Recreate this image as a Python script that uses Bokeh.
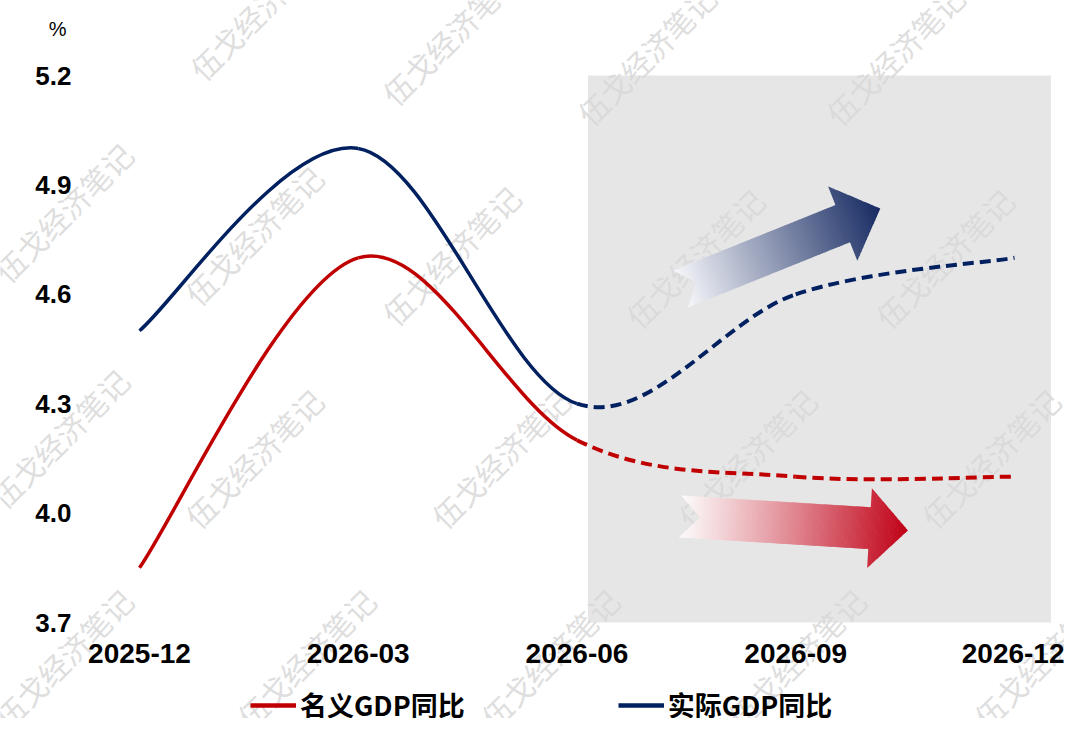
import math
from bokeh.plotting import figure
from bokeh.models import (Range1d, FixedTicker, BoxAnnotation, Label, Legend,
                          LegendItem, NumeralTickFormatter)
from bokeh.embed import file_html
from bokeh.resources import INLINE

# ---------------- data ----------------
quarters = ["2025-12", "2026-03", "2026-06", "2026-09", "2026-12"]
month_pos = [0, 3, 6, 9, 12]
nominal = [3.85, 4.70, 4.20, 4.10, 4.10]     # 名义GDP同比
real = [4.50, 5.00, 4.30, 4.60, 4.70]        # 实际GDP同比
y_ticks = [3.7, 4.0, 4.3, 4.6, 4.9, 5.2]
y_min, y_max = 3.7, 5.2
series_names = ["名义GDP同比", "实际GDP同比"]
forecast_start_index = 2   # dashed from 2026-06 on
shade_months = (6.15, 12.5)
watermark_text = "伍戈经济笔记"

RED = "#c00000"
NAVY = "#002060"

# ---------------- layout mapping ----------------
W, H = 1064, 718
REF_PX0, REF_PXM = 139.0, 73.92      # reference px of month 0, px per month
PY0, PYU = 622.0, 547.0 / 1.5        # canvas y of 3.7, px per unit
CANVAS_PXM = (1014.0 - 139.0) / 12   # slightly compressed to fit 1064px


def dx(px):
    return (px - REF_PX0) / REF_PXM


def dy(py):
    return y_min + (PY0 - py) / PYU


p = figure(width=W, height=H, output_backend="svg", toolbar_location=None,
           x_range=Range1d(-REF_PX0 / CANVAS_PXM, (W - REF_PX0) / CANVAS_PXM),
           y_range=Range1d(dy(H), dy(0)),
           min_border=0, min_border_left=0, min_border_right=0,
           min_border_top=0, min_border_bottom=0)
p.title.visible = False
p.outline_line_color = None
p.grid.visible = False
p.background_fill_color = "white"
p.border_fill_color = "white"

for ax in (p.xaxis[0], p.yaxis[0]):
    ax.axis_line_color = None
    ax.major_tick_line_color = None
    ax.minor_tick_line_color = None
    ax.major_tick_out = 0
    ax.major_tick_in = 0
    ax.major_label_text_font = "Liberation Sans"
    ax.major_label_text_font_style = "bold"
    ax.major_label_text_color = "black"

p.xaxis.fixed_location = y_min
p.xaxis.ticker = FixedTicker(ticks=month_pos)
p.xaxis.major_label_overrides = {m: q for m, q in zip(month_pos, quarters)}
p.xaxis.major_label_text_font_size = "28px"
p.xaxis.major_label_standoff = 21

p.yaxis.fixed_location = (90 - REF_PX0) / CANVAS_PXM
p.yaxis.ticker = FixedTicker(ticks=y_ticks)
p.yaxis.formatter = NumeralTickFormatter(format="0.0")
p.yaxis.major_label_text_font_size = "26px"
p.yaxis.major_label_standoff = 19

# shaded forecast area
p.add_layout(BoxAnnotation(left=shade_months[0], right=shade_months[1],
                           bottom=y_min, top=y_max,
                           fill_color="#e7e6e6", fill_alpha=1.0,
                           line_color=None, level="underlay"))

# watermark
wm_px = [(205, 85), (400, 110), (598, 130), (850, 130),
         (7, 287), (200, 310), (400, 330), (647, 333), (900, 333),
         (3, 513), (200, 533), (450, 533), (700, 533), (947, 533),
         (7, 733), (253, 733), (500, 733), (750, 733), (1000, 733)]
for (wx, wy) in wm_px:
    p.add_layout(Label(x=dx(wx + 6), y=dy(wy + 4), text=watermark_text,
                       angle=math.radians(45),
                       text_font="Noto Sans CJK SC", text_font_size="30px",
                       text_color="#d8d8d8", text_alpha=0.85,
                       text_align="left", text_baseline="bottom", level="underlay"))

# "%" unit label
p.add_layout(Label(x=dx(56), y=dy(28), text="%", text_font="Liberation Sans",
                   text_font_size="20px", text_align="center", text_baseline="middle",
                   text_color="black"))


# ---------------- gradient arrows ----------------
def clip(poly, a, keep_ge):
    out = []
    m = len(poly)
    for i in range(m):
        P, Q = poly[i], poly[(i + 1) % m]
        inP = P[0] >= a if keep_ge else P[0] <= a
        inQ = Q[0] >= a if keep_ge else Q[0] <= a
        if inP:
            out.append(P)
        if inP != inQ:
            t = (a - P[0]) / (Q[0] - P[0])
            out.append((a, P[1] + t * (Q[1] - P[1])))
    return out


def hexc(c):
    return "#%02x%02x%02x" % tuple(int(round(v)) for v in c)


def gradient_arrow(tail, tip, hw_body, hw_head, head_len, notch, c0, c1, n=70, gamma=1.0):
    tx, ty = tail
    L = math.hypot(tip[0] - tx, tip[1] - ty)
    ux, uy = (tip[0] - tx) / L, (tip[1] - ty) / L
    nx, ny = -uy, ux
    hb = L - head_len
    poly = [(0, -hw_body), (hb, -hw_body), (hb, -hw_head), (L, 0),
            (hb, hw_head), (hb, hw_body), (0, hw_body), (notch, 0)]
    xs, ys, cols = [], [], []
    for k in range(n):
        a, b = L * k / n, L * (k + 1) / n + 0.6
        pc = clip(clip(poly, a, True), b, False)
        if len(pc) < 3:
            continue
        xs.append([dx(tx + s * ux + w * nx) for s, w in pc])
        ys.append([dy(ty + s * uy + w * ny) for s, w in pc])
        t = ((k + 0.5) / n) ** gamma
        cols.append(hexc([c0[i] + (c1[i] - c0[i]) * t for i in range(3)]))
    p.patches(xs, ys, fill_color=cols, line_color=None)


gradient_arrow((687.5, 288.5), (890, 208), 20, 40, 41, 17,
               (246, 247, 250), (22, 42, 98), gamma=1.0)
gradient_arrow((687, 516), (918, 530), 21, 40, 39, 20,
               (252, 250, 250), (192, 0, 22), gamma=1.1)


# ---------------- smoothed curves (Excel-style Bezier) ----------------
def bezier_parts(xs, ys):
    n = len(xs)
    parts = []
    for i in range(n - 1):
        ip = i - 1 if i > 0 else i
        inn = i + 2 if i + 2 < n else i + 1
        parts.append(dict(x0=xs[i], y0=ys[i], x1=xs[i + 1], y1=ys[i + 1],
                          cx0=xs[i] + (xs[i + 1] - xs[ip]) / 6.0,
                          cy0=ys[i] + (ys[i + 1] - ys[ip]) / 6.0,
                          cx1=xs[i + 1] - (xs[inn] - xs[i]) / 6.0,
                          cy1=ys[i + 1] - (ys[inn] - ys[i]) / 6.0))
    return parts


def draw_series(vals, color):
    parts = bezier_parts(month_pos, vals)
    solid = parts[:forecast_start_index]
    dashed = parts[forecast_start_index:]
    for group, dash, lw in ((solid, "solid", 3.5), (dashed, "11 6", 4)):
        data = {k: [seg[k] for seg in group] for k in group[0]}
        p.bezier(x0="x0", y0="y0", x1="x1", y1="y1", cx0="cx0", cy0="cy0",
                 cx1="cx1", cy1="cy1", source=data, line_color=color,
                 line_width=lw, line_dash=dash)


draw_series(nominal, RED)
draw_series(real, NAVY)

# legend-only line renderers (placed outside the visible ranges)
off_x = [-50, -49]
off_y = [0, 0]
leg_nom = p.line(x=off_x, y=off_y, line_color=RED, line_width=4.5)
leg_real = p.line(x=off_x, y=off_y, line_color=NAVY, line_width=4.5)

legend = Legend(items=[LegendItem(label=series_names[0], renderers=[leg_nom]),
                       LegendItem(label=series_names[1], renderers=[leg_real])],
                location=(250, -6), orientation="horizontal",
                padding=0, margin=0, spacing=153, glyph_width=46, glyph_height=20,
                label_standoff=4, border_line_color=None, background_fill_alpha=0,
                label_text_font="Noto Sans CJK SC", label_text_font_style="bold",
                label_text_font_size="27px", label_text_color="black")
p.add_layout(legend, "center")

open("out.html", "w").write(file_html(p, INLINE))
